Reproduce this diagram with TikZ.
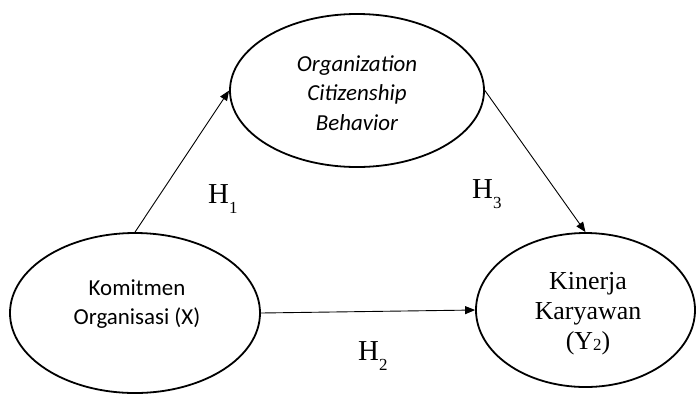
\documentclass[tikz,border=0pt]{standalone}
\usepackage{fontspec}
\setmainfont{Liberation Serif}
\newfontfamily\calib{Carlito}
\usetikzlibrary{shapes.geometric,arrows.meta}
\tikzset{
  construct/.style={draw=black, line width=1.8bp, ellipse, inner sep=0pt},
  path/.style={draw=black, line width=0.9bp, -{Triangle[length=10bp,width=8bp]}},
  ctext/.style={align=center, font=\calib\fontsize{23}{29.5}\selectfont},
  ttext/.style={align=center, font=\fontsize{26}{30}\selectfont},
  hlabel/.style={font=\fontsize{29}{29}\selectfont, inner sep=0pt, anchor=base west}
}
\begin{document}
\begin{tikzpicture}[x=1bp,y=-1bp]
\useasboundingbox (0,0) rectangle (697,394);
\node[construct, minimum width=254bp, minimum height=153bp] (T) at (357,90.5) {};
\node[construct, minimum width=250bp, minimum height=160bp] (L) at (135,313) {};
\node[construct, minimum width=219bp, minimum height=154bp] (R) at (585.5,310) {};
\node[ctext] (Tt) at (357,93) {\itshape Organization\\\itshape Citizenship\\\itshape Behavior};
\node[ctext] (Lt) at (137,304) {Komitmen\\Organisasi (X)};
\node[ttext] (Rt) at (588,314) {Kinerja\\Karyawan\\(Y{\fontsize{17}{17}\selectfont\raisebox{-1bp}{2}})};
\draw[path] (L.north) -- (T.west);
\draw[path] (L.east) -- (R.west);
\draw[path] (T.east) -- (R.north);
\node[hlabel] (H1) at (208,203) {H\raisebox{-10bp}{\fontsize{17}{17}\selectfont 1}};
\node[hlabel] (H3) at (472,198) {H\raisebox{-10bp}{\fontsize{17}{17}\selectfont 3}};
\node[hlabel] (H2) at (358,360) {H\raisebox{-10bp}{\fontsize{17}{17}\selectfont 2}};
\end{tikzpicture}
\end{document}
